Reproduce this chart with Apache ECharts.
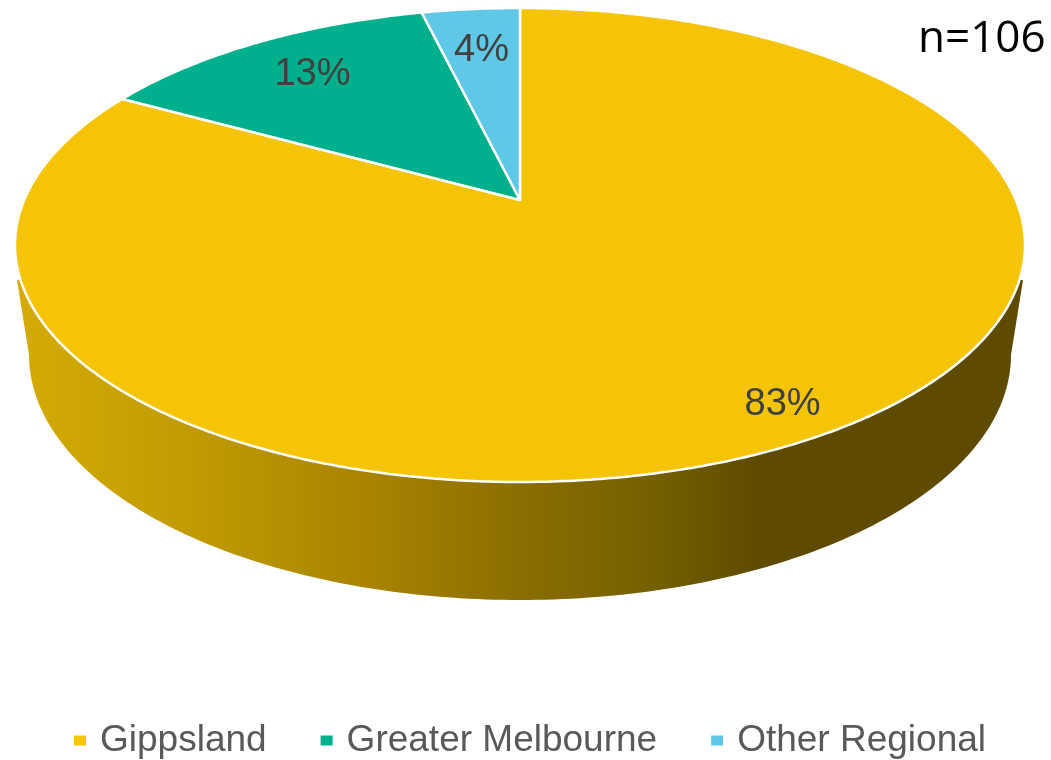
<!DOCTYPE html>
<html><head><meta charset="utf-8">
<style>html,body{margin:0;padding:0;background:#fff}#c{width:1051px;height:760px}</style>
<script src="https://cdn.jsdelivr.net/npm/echarts@6/dist/echarts.min.js"></script>
</head><body><div id="c"></div>
<script>
const categories = ['Gippsland', 'Greater Melbourne', 'Other Regional'];
const counts = [88, 14, 4];
const percentLabels = ['83%', '13%', '4%'];
const colors = ['#F5C405', '#00AF8C', '#5FC8E6'];
const sampleLabel = 'n=106';

// layout of the tilted disc
const APEX_X = 520, APEX_Y = 200, TOP_Y = 8, BOTTOM_Y = 482, RIGHT_R = 505;
const labelRadius = [0.89, 0.77, 0.75];
// projective constants: v=-1 -> TOP_Y, v=0 -> APEX_Y, v=1 -> BOTTOM_Y
const PC = (2 * APEX_Y - TOP_Y - BOTTOM_Y) / (BOTTOM_Y - TOP_Y);
const PA = (APEX_Y - TOP_Y) + TOP_Y * PC;
const midV = ((TOP_Y + BOTTOM_Y) / 2 - APEX_Y) / (BOTTOM_Y - TOP_Y) * 2;
const PX = RIGHT_R * (1 + PC * midV) / Math.sqrt(1 - midV * midV);

function project(angleDeg, r) { // clockwise from 12 o'clock
  const t = angleDeg * Math.PI / 180, u = r * Math.sin(t), v = -r * Math.cos(t);
  const d = 1 + PC * v;
  return [APEX_X + PX * u / d, (PA * v + APEX_Y) / d];
}
const total = counts.reduce((a, b) => a + b, 0);
function startAngle(i) { // slices run clockwise from 12 o'clock
  let s = 0; for (let k = 0; k < i; k++) s += counts[k];
  return s / total * 360;
}
function wall() {
  const cy = 355, ry = 245, rx = 491, pts = [];
  pts.push([APEX_X - RIGHT_R + 2, 280]);
  for (let a = 180; a >= 0; a -= 1) {
    const t = a * Math.PI / 180;
    pts.push([APEX_X + rx * Math.cos(t), cy + ry * Math.sin(t)]);
  }
  pts.push([APEX_X + RIGHT_R - 2, 280]);
  return {
    type: 'polygon', shape: { points: pts },
    style: { fill: { type: 'linear', global: true, x: 0, y: 0, x2: 1051, y2: 0, colorStops: [
      { offset: 0.02, color: '#D4AB05' },
      { offset: 0.20, color: '#BE9903' },
      { offset: 0.35, color: '#A88400' },
      { offset: 0.50, color: '#8A6D00' },
      { offset: 0.62, color: '#756000' },
      { offset: 0.72, color: '#5F4B00' },
      { offset: 1, color: '#5F4B00' }
    ] } }
  };
}
function render(i) {
  return function (params, api) {
    const share = api.value(0) / total * 360, a0 = startAngle(i), pts = [[APEX_X, APEX_Y]];
    const n = Math.max(8, Math.round(share * 2));
    for (let k = 0; k <= n; k++) pts.push(project(a0 + share * k / n, 1));
    const lab = project(a0 + share / 2, labelRadius[i]);
    const kids = [];
    if (i === 0) kids.push(wall());
    kids.push({ type: 'polygon', shape: { points: pts },
      style: { fill: colors[i], stroke: '#fff', lineWidth: 2.5, lineJoin: 'round' } });
    kids.push({ type: 'text', z2: 50, style: { text: percentLabels[i], x: lab[0], y: lab[1],
      align: 'center', verticalAlign: 'middle', fontFamily: 'Liberation Sans', fontSize: 38, fill: '#404040' } });
    return { type: 'group', children: kids };
  };
}
const chart = echarts.init(document.getElementById('c'), null, { renderer: 'canvas' });
chart.setOption({
  animation: false,
  backgroundColor: '#fff',
  title: { text: sampleLabel, left: 918, top: 17, padding: 0,
    textStyle: { fontFamily: 'Open Sans', fontSize: 44, fontWeight: 'normal', color: '#000' } },
  legend: { data: categories, left: 69, top: 717, itemWidth: 12, itemHeight: 10, itemGap: 54, icon: 'rect',
    textStyle: { fontFamily: 'Liberation Sans', fontSize: 37, color: '#595959', padding: [6, 0, 0, 9] } },
  series: categories.map((name, i) => ({
    type: 'custom', name, coordinateSystem: 'none', data: [counts[i]],
    itemStyle: { color: colors[i] }, renderItem: render(i), silent: true
  }))
});
</script></body></html>
